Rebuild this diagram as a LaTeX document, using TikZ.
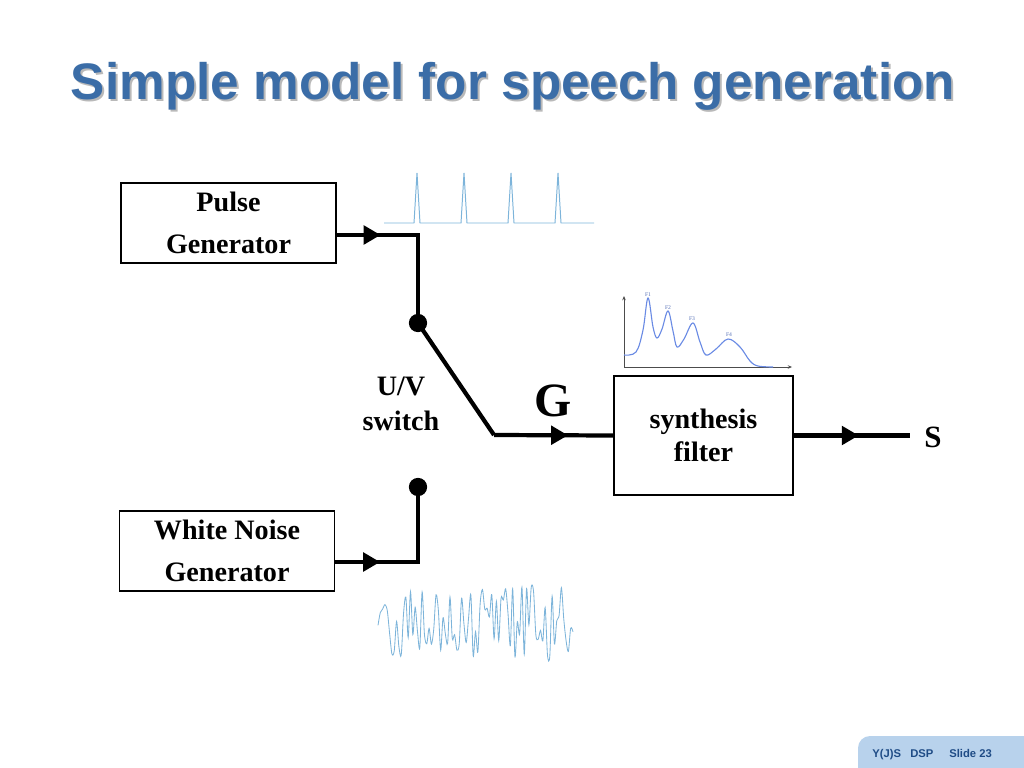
\documentclass[tikz,border=0pt]{standalone}
\usepackage{fontspec}
\setmainfont{Liberation Serif}
\newfontfamily\headfont{Liberation Sans}
\usetikzlibrary{arrows.meta,decorations.markings}
\definecolor{titleblue}{HTML}{3B6DA7}
\definecolor{tabblue}{HTML}{B8D2EC}
\definecolor{tabtext}{HTML}{1F4C86}
\definecolor{wave}{HTML}{7DB4DA}
\definecolor{formant}{HTML}{6A8BE4}
\tikzset{
  block/.style={draw,line width=0.8pt,minimum width=5.375cm,minimum height=2cm,
    align=center,font=\bfseries\fontsize{20}{29.5}\selectfont},
  wire/.style={line width=3pt},
  tip at/.style={postaction={decorate,decoration={markings,
    mark=at position #1 with {\arrow{Triangle[length=12pt,width=13pt]}}}}},
  lbl/.style={align=center,font=\bfseries\fontsize{20}{25}\selectfont},
  contact/.style={circle,fill,inner sep=0pt,minimum size=13pt},
}
\begin{document}
\begin{tikzpicture}[x=0.025cm,y=-0.025cm]
  \useasboundingbox (0,0) rectangle (1024,768);
  % title with its shadow
  \node[anchor=base,text=gray!55,font=\headfont\bfseries\fontsize{36.5}{36.5}\selectfont] (titleshadow) at (515,102) {Simple model for speech generation};
  \node[anchor=base,text=titleblue,font=\headfont\bfseries\fontsize{36.5}{36.5}\selectfont] (title) at (513,100) {Simple model for speech generation};

  % blocks
  \node[block] (pg) at (228.5,223) {Pulse\\Generator};
  \node[block] (wn) at (227,551) {White Noise\\Generator};
  \node[block,line width=1pt,minimum width=4.475cm,minimum height=2.975cm,
    font=\bfseries\fontsize{20}{24}\selectfont] (sf) at (703.5,435.5) {synthesis\\filter};

  % switch contacts
  \node[contact] (dotA) at (418,323) {};
  \node[contact] (dotB) at (418,487) {};
  \coordinate (pgc) at (418,235);
  \coordinate (wnc) at (418,562);
  \coordinate (swp) at (494,435);
  \coordinate (sout) at (910,435.5);

  \draw[wire,tip at=1.1cm] (pgc -| pg.east) -- (pgc) -- (dotA.center);
  \draw[wire,tip at=1.125cm] (wnc -| wn.east) -- (wnc) -- (dotB.center);
  \draw[wire] (dotA.center) -- (swp);
  \draw[wire,tip at=1.85cm] (swp) -- (sf.west);
  \draw[wire,tip at=1.625cm] (sf.east) -- (sout);

  \node[lbl] (uv) at (401,403.5) {U/V\\switch};
  \node[font=\bfseries\fontsize{34}{34}\selectfont] (gain) at (553,401) {G};
  \node[font=\bfseries\fontsize{22}{22}\selectfont] (outS) at (933,437) {S};

  % pulse train
  \draw[wave,line width=0.7pt] (384,223) foreach \p in {417,464,511,558} {-- (\p-3,223) -- (\p,173) -- (\p+3,223)} -- (594,223);

  % spectral envelope
  \draw[-{Stealth[length=3pt,width=2.5pt]},gray!60!black,line width=0.5pt] (624,367) -- (624,296);
  \draw[-{Stealth[length=3pt,width=2.5pt]},gray!60!black,line width=0.5pt] (624,367) -- (792,367);
  \draw[formant,line width=0.8pt] plot[smooth,tension=0.6] coordinates {(624,355) (636,352) (643,330) (648,298) (653,327) (657,338) (662,329) (668,311) (673,331) (677,347) (684,339) (693,323) (700,342) (706,355) (716,349) (728,339) (740,347) (750,361) (758,366) (773,367)};
  \foreach \n/\fx/\fy in {1/648/295,2/668/308,3/692/319,4/729/335}
    \node[text=formant!80!black,inner sep=0pt,font=\fontsize{4}{4}\selectfont] (f\n) at (\fx,\fy) {F\n};

  % noise
  \pgfmathsetseed{11}
  \draw[wave,line width=0.6pt] plot[smooth,tension=0.5,domain=378:573,samples=85] (\x,{624+38*rand});

  % footer tab
  \fill[tabblue] (858,768) -- (858,748) to[out=90,in=180] (870,736) -- (1024,736) -- (1024,768) -- cycle;
  \node[anchor=base west,inner sep=0pt,text=tabtext,font=\headfont\bfseries\fontsize{8}{8}\selectfont] (fa) at (872,757) {Y(J)S};
  \node[anchor=base west,inner sep=0pt,text=tabtext,font=\headfont\bfseries\fontsize{8}{8}\selectfont] (fb) at (910,757) {DSP};
  \node[anchor=base west,inner sep=0pt,text=tabtext,font=\headfont\bfseries\fontsize{8}{8}\selectfont] (fc) at (949,757) {Slide 23};
\end{tikzpicture}
\end{document}
